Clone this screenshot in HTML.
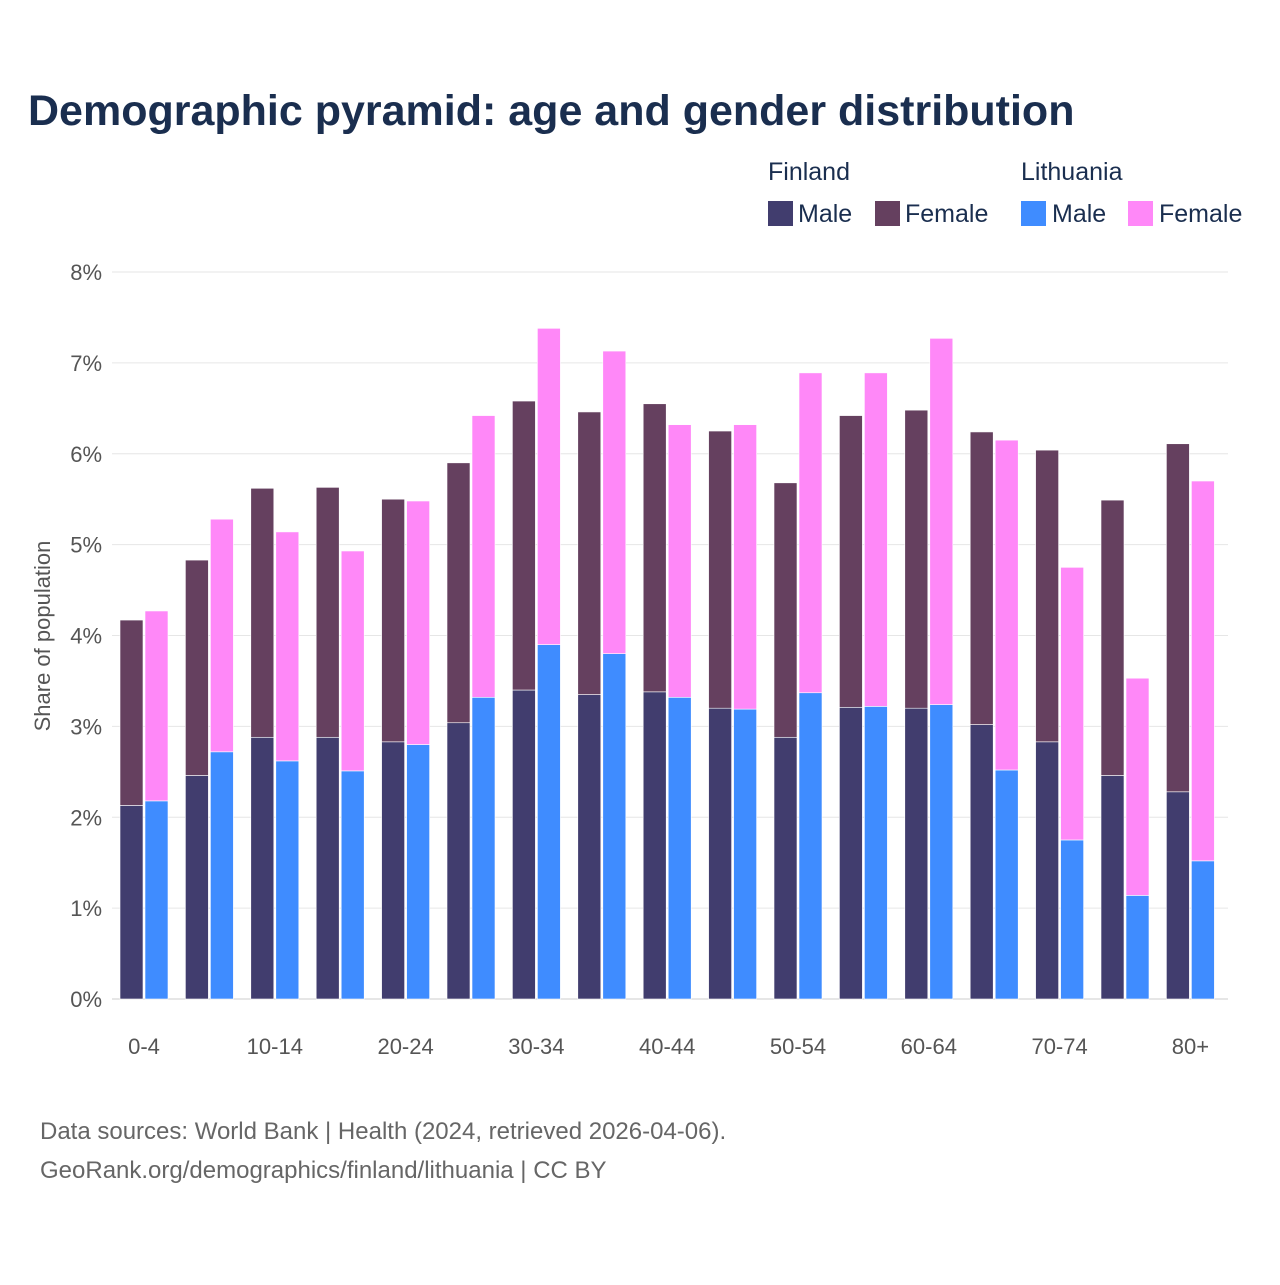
<!DOCTYPE html>
<html><head><meta charset="utf-8"><style>
body{margin:0;background:#fff;font-family:"Liberation Sans",sans-serif;}
svg text{font-family:"Liberation Sans",sans-serif;}
</style></head><body>
<svg id="chart" width="1280" height="1280" viewBox="0 0 1280 1280" xmlns="http://www.w3.org/2000/svg">
<rect width="1280" height="1280" fill="#fff"/>
<text x="28" y="125" font-size="43" font-weight="bold" fill="#1a2e4f">Demographic pyramid: age and gender distribution</text>
<g font-size="25" fill="#1a2e4f">
<text x="768" y="180" fill="#1a2e4f">Finland</text>
<text x="1021" y="180" fill="#1a2e4f">Lithuania</text>
<g><rect x="768" y="201" width="25" height="25" fill="#413d6e"/><text x="798" y="222" fill="#1a2e4f">Male</text></g>
<g><rect x="875" y="201" width="25" height="25" fill="#65405f"/><text x="905" y="222" fill="#1a2e4f">Female</text></g>
<g><rect x="1021" y="201" width="25" height="25" fill="#3f8cff"/><text x="1052" y="222" fill="#1a2e4f">Male</text></g>
<g><rect x="1128" y="201" width="25" height="25" fill="#ff88f8"/><text x="1159" y="222" fill="#1a2e4f">Female</text></g>
</g>
<text transform="translate(50,636) rotate(-90)" text-anchor="middle" font-size="22" fill="#555">Share of population</text>
<g id="grid"></g><g id="bars"></g><g id="xt"></g>
<text x="40" y="1139" font-size="24" fill="#666">Data sources: World Bank | Health (2024, retrieved 2026-04-06).</text>
<text x="40" y="1178" font-size="24" fill="#666">GeoRank.org/demographics/finland/lithuania | CC BY</text>
</svg>
<script>
const categories=["0-4","5-9","10-14","15-19","20-24","25-29","30-34","35-39","40-44","45-49","50-54","55-59","60-64","65-69","70-74","75-79","80+"];
const finMale=[2.13,2.46,2.88,2.88,2.83,3.04,3.40,3.35,3.38,3.20,2.88,3.21,3.20,3.02,2.83,2.46,2.28];
const finFemale=[2.04,2.37,2.74,2.75,2.67,2.86,3.18,3.11,3.17,3.05,2.80,3.21,3.28,3.22,3.21,3.03,3.83];
const litMale=[2.18,2.72,2.62,2.51,2.80,3.32,3.90,3.80,3.32,3.19,3.37,3.22,3.24,2.52,1.75,1.14,1.52];
const litFemale=[2.09,2.56,2.52,2.42,2.68,3.10,3.48,3.33,3.00,3.13,3.52,3.67,4.03,3.63,3.00,2.39,4.18];
const yTicks=[0,1,2,3,4,5,6,7,8];
const NS="http://www.w3.org/2000/svg";
const y=v=>999-v*90.875;
const xg=i=>120+i*65.4;
function mk(tag,attrs,parent){const e=document.createElementNS(NS,tag);for(const k in attrs)e.setAttribute(k,attrs[k]);document.getElementById(parent).appendChild(e);return e;}
yTicks.forEach(t=>{
 const l=mk('line',{x1:112,x2:1228,y1:y(t),y2:y(t),stroke:t===0?'#ccc':'#e6e6e6','stroke-width':1},'grid');
 
 
 const tx=mk('text',{x:102,y:y(t)+8,'text-anchor':'end','font-size':22,fill:'#555'},'grid');
 tx.textContent=t+'%';
 
 
});
categories.forEach((c,i)=>{
 const segs=[[xg(i),0,finMale[i],'#413d6e','finland-male'],[xg(i),finMale[i],finMale[i]+finFemale[i],'#65405f','finland-female'],
  [xg(i)+25,0,litMale[i],'#3f8cff','lithuania-male'],[xg(i)+25,litMale[i],litMale[i]+litFemale[i],'#ff88f8','lithuania-female']];
 segs.forEach(s=>{
  const r=mk('rect',{x:s[0],y:y(s[2]),width:23,height:y(s[1])-y(s[2]),fill:s[3],stroke:'#fff','stroke-width':0.6},'bars');
  
  
 });
 if(i%2===0){
  const t=mk('text',{x:xg(i)+24,y:1054,'text-anchor':'middle','font-size':22,fill:'#555'},'xt');
  t.textContent=c;
  
  
 }
});
</script>
</body></html>
